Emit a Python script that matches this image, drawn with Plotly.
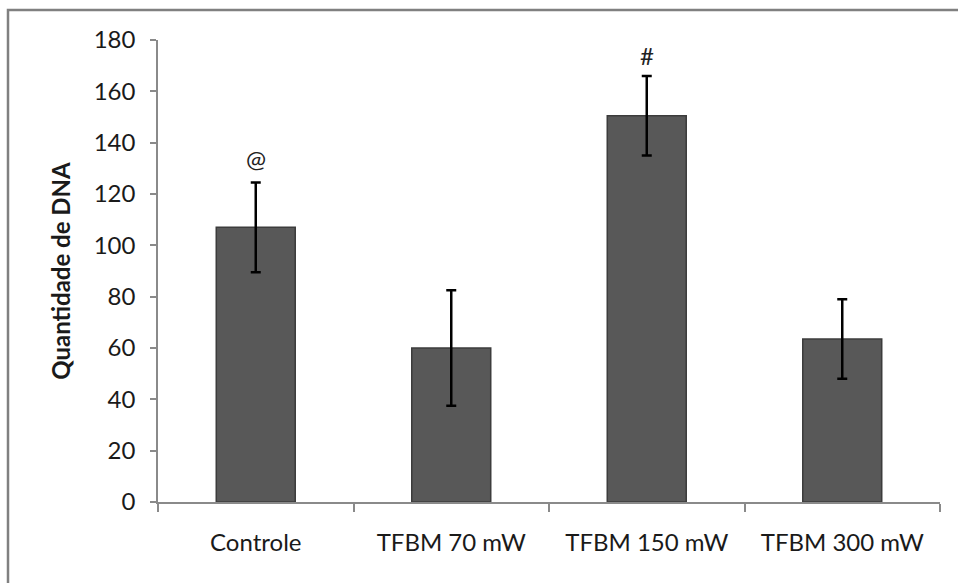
import plotly.graph_objects as go

categories = ["Controle", "TFBM 70 mW", "TFBM 150 mW", "TFBM 300 mW"]
values = [107, 60, 150.5, 63.5]
errors = [17.5, 22.5, 15.5, 15.5]
markers = ["@", "", "#", ""]
marker_y = [134, None, 174, None]
y_ticks = list(range(0, 181, 20))

W, H = 958, 583
L, R, T, B = 158, 18, 40, 81
pw, ph = W - L - R, H - T - B

def px_x(x):
    return (x - L) / pw

def px_y(y):
    return (H - B - y) / ph

font_family = "Lato, 'Open Sans', sans-serif"

fig = go.Figure()
fig.add_trace(go.Bar(
    x=categories, y=values,
    marker=dict(color="#585858", line=dict(color="#3c3c3c", width=1.5)),
    error_y=dict(type="data", array=errors, visible=True, color="black", thickness=2.5, width=5),
    showlegend=False,
))

for c, m, my in zip(categories, markers, marker_y):
    if m:
        fig.add_annotation(x=c, y=my, text=m, showarrow=False,
                           font=dict(size=24, color="#222", family=font_family))

# outer chart border
fig.add_shape(type="rect", xref="paper", yref="paper",
              x0=px_x(8), x1=px_x(1000), y0=px_y(640), y1=px_y(10),
              line=dict(color="#808080", width=2.5), fillcolor="rgba(0,0,0,0)", layer="below")

fig.update_layout(
    width=W, height=H,
    margin=dict(l=L, r=R, t=T, b=B, pad=0),
    plot_bgcolor="white", paper_bgcolor="white",
    bargap=0.596,
    font=dict(family=font_family, size=24, color="#1a1a1a"),
    xaxis=dict(
        showline=True, linecolor="#8a8a8a", linewidth=1.5,
        ticks="outside", ticklen=8, tickcolor="#8a8a8a", tickwidth=1.5,
        tickson="boundaries", showgrid=False, ticklabelstandoff=18,
        tickfont=dict(size=24, family=font_family),
    ),
    yaxis=dict(
        range=[0, 180], tickvals=y_ticks,
        showline=True, linecolor="#8a8a8a", linewidth=1.5,
        ticks="outside", ticklen=6, tickcolor="#8a8a8a", tickwidth=1.5,
        showgrid=False, zeroline=False, ticklabelstandoff=10,
        tickfont=dict(size=24, family=font_family),
        title=dict(text="<b>Quantidade de DNA</b>", font=dict(size=24, family=font_family), standoff=16),
    ),
)

fig.write_html("out.html")
